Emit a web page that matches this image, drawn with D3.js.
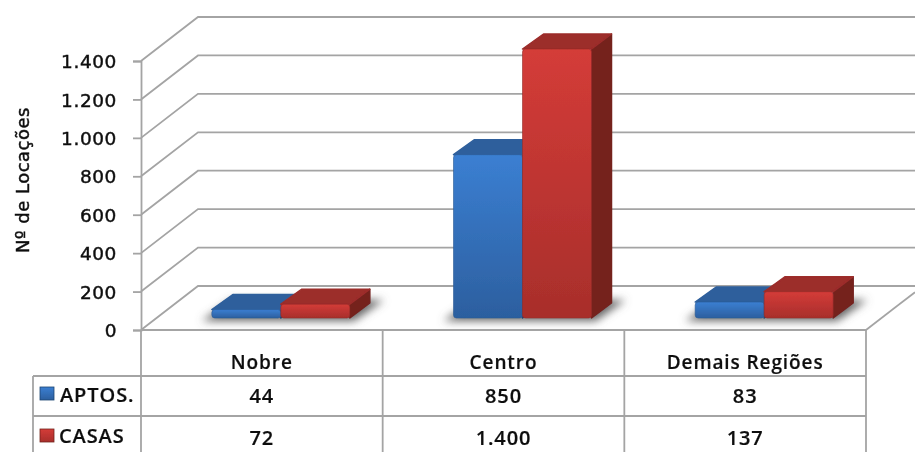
<!DOCTYPE html>
<html>
<head>
<meta charset="utf-8">
<script src="https://cdn.jsdelivr.net/npm/d3@7"></script>
<style>
  html, body { margin: 0; padding: 0; background: #fff; overflow: hidden; }
  text { font-family: "DejaVu Sans", sans-serif; fill: #111; stroke: #111; stroke-width: 0.45px; }
  .tbl { font-family: "Open Sans", sans-serif; font-weight: 600; stroke-width: 0.2px; letter-spacing: 0.9px; }
</style>
</head>
<body>
<svg id="svg" width="915" height="452"></svg>
<script>
var categories = ['Nobre', 'Centro', 'Demais Regiões'];
var seriesNames = ['APTOS.', 'CASAS'];
var aptos = [44, 850, 83];
var casas = [72, 1400, 137];
var yTicks = [0, 200, 400, 600, 800, 1000, 1200, 1400];
var yTitle = 'Nº de Locações';

var colors = [
  { light: '#3b7fd2', dark: '#2c5f9f', top: '#2e5f9c', side: '#1f4472', line: '#2a5a96' },
  { light: '#d43c38', dark: '#a82e2b', top: '#9c2d2a', side: '#74211f', line: '#962b28' }
];

var svg = d3.select('#svg');
var gridColor = '#a4a4a4';

var left = 141, right = 866, base = 330, topY = 61;
var wallDx = 57, wallDy = -44;   // how far the back wall sits behind the front plane
var barDx = 21, barDy = -16;     // depth of a bar
var rowY = [330, 376, 416, 458];

var x = d3.scaleBand().domain(categories).range([left, right]);
var inner = d3.scaleBand().domain(seriesNames).range([0, 138]);
var y = d3.scaleLinear().domain([0, 1400]).range([base, topY]);
var shiftX = 19, shiftY = -12;   // bars stand a little inside the floor
var fmt = d3.formatLocale({ decimal: ',', thousands: '.', grouping: [3], currency: ['', ''] }).format(',d');

var defs = svg.append('defs');
colors.forEach(function(c, i) {
  var g = defs.append('linearGradient').attr('id', 'front' + i)
    .attr('x1', 0).attr('y1', 0).attr('x2', 0).attr('y2', 1);
  g.append('stop').attr('offset', 0).attr('stop-color', c.light);
  g.append('stop').attr('offset', 1).attr('stop-color', c.dark);
});
defs.append('filter').attr('id', 'shadow')
  .attr('x', '-30%').attr('y', '-80%').attr('width', '160%').attr('height', '260%')
  .append('feGaussianBlur').attr('stdDeviation', 4);
defs.append('filter').attr('id', 'soft')
  .append('feGaussianBlur').attr('stdDeviation', 0.4);

var root = svg.append('g').attr('filter', 'url(#soft)');

// back wall gridlines and side wall
var grid = root.append('g').attr('fill', 'none').attr('stroke', gridColor).attr('stroke-width', 1.8);
grid.selectAll('path').data(yTicks).enter().append('path')
  .attr('d', function(d) {
    return d3.line()([[left, y(d)], [left + wallDx, y(d) + wallDy], [915, y(d) + wallDy]]);
  });
grid.append('line').attr('x1', right).attr('y1', base).attr('x2', 915).attr('y2', base + (915 - right) * wallDy / wallDx);

// axis
var axis = d3.axisLeft(y).tickValues(yTicks).tickSize(8).tickPadding(16).tickFormat(fmt);
var axisG = root.append('g').attr('transform', 'translate(' + left + ',0)').call(axis);
axisG.selectAll('line, path').attr('stroke', gridColor).attr('stroke-width', 1.8);
axisG.selectAll('text')
  .attr('font-size', 18.5)
  .attr('letter-spacing', 0.6)
  .style('font-family', '"DejaVu Sans", sans-serif')
  .attr('fill', '#111')
  .attr('dy', '0.36em');

root.append('text')
  .attr('transform', 'translate(29,180) rotate(-90)')
  .attr('text-anchor', 'middle')
  .attr('font-size', 18)
  .attr('letter-spacing', 0.5)
  .text(yTitle);

// bars
var barsData = [];
categories.forEach(function(c, i) {
  barsData.push({ cat: c, s: 0, v: aptos[i] });
  barsData.push({ cat: c, s: 1, v: casas[i] });
});
function bx(d) {
  return x(d.cat) + x.bandwidth() / 2 - inner.bandwidth() + inner(seriesNames[d.s]) + shiftX;
}

var shadows = root.append('g');
categories.forEach(function(c) {
  var x0 = x(c) + x.bandwidth() / 2 - inner.bandwidth() + shiftX;
  var x1 = x0 + inner.bandwidth() * 2;
  var b = base + shiftY;
  shadows.append('path')
    .attr('d', d3.line()([[x0 - 10, b + 3], [x1 + 4, b + 3], [x1 + 34, b + barDy - 2], [x0 + 20, b + barDy - 2]]))
    .attr('fill', '#666')
    .attr('filter', 'url(#shadow)');
});

var bars = root.append('g').selectAll('g').data(barsData).enter().append('g');
bars.append('path')
  .attr('fill', function(d) { return colors[d.s].side; })
  .attr('stroke', function(d) { return colors[d.s].side; })
  .attr('stroke-width', 1.5)
  .attr('stroke-linejoin', 'round')
  .attr('d', function(d) {
    var r = bx(d) + inner.bandwidth(), b = base + shiftY, t = y(d.v) + shiftY;
    return d3.line()([[r, b], [r + barDx - 1, b + barDy + 1], [r + barDx - 1, t + barDy + 1], [r, t]]) + 'Z';
  });
bars.append('path')
  .attr('fill', function(d) { return colors[d.s].top; })
  .attr('stroke', function(d) { return colors[d.s].top; })
  .attr('stroke-width', 1.5)
  .attr('stroke-linejoin', 'round')
  .attr('d', function(d) {
    var l = bx(d), r = l + inner.bandwidth(), t = y(d.v) + shiftY;
    return d3.line()([[l, t], [l + barDx, t + barDy + 1], [r + barDx - 1, t + barDy + 1], [r, t]]) + 'Z';
  });
bars.append('rect')
  .attr('x', bx)
  .attr('y', function(d) { return y(d.v) + shiftY; })
  .attr('width', inner.bandwidth())
  .attr('height', function(d) { return base - y(d.v); })
  .attr('rx', 3)
  .attr('fill', function(d) { return 'url(#front' + d.s + ')'; })
  .attr('stroke', function(d) { return colors[d.s].line; })
  .attr('stroke-width', 0.6);

// data table
var tableLeft = 33;
var table = root.append('g').attr('stroke', gridColor).attr('stroke-width', 1.8);
table.append('line').attr('x1', left).attr('y1', rowY[0]).attr('x2', right).attr('y2', rowY[0]);
table.append('line').attr('x1', tableLeft).attr('y1', rowY[1]).attr('x2', right).attr('y2', rowY[1]);
table.append('line').attr('x1', tableLeft).attr('y1', rowY[2]).attr('x2', right).attr('y2', rowY[2]);
table.append('line').attr('x1', tableLeft).attr('y1', rowY[1]).attr('x2', tableLeft).attr('y2', rowY[3]);
[left].concat(categories.map(function(c) { return x(c) + x.bandwidth(); })).forEach(function(vx) {
  table.append('line').attr('x1', vx).attr('y1', rowY[0]).attr('x2', vx).attr('y2', rowY[3]);
});

root.append('g').selectAll('text').data(categories).enter().append('text')
  .attr('class', 'tbl')
  .attr('x', function(d) { return x(d) + x.bandwidth() / 2; })
  .attr('y', 369)
  .attr('text-anchor', 'middle')
  .attr('font-size', 19)
  .text(function(d) { return d; });

[aptos, casas].forEach(function(vals, r) {
  root.append('g').selectAll('text').data(vals).enter().append('text')
    .attr('class', 'tbl')
    .attr('x', function(d, i) { return x(categories[i]) + x.bandwidth() / 2; })
    .attr('y', r === 0 ? 403 : 445)
    .attr('text-anchor', 'middle')
    .attr('font-size', 20)
    .text(function(d) { return fmt(d); });

  var ky = r === 0 ? 387 : 429;
  root.append('rect').attr('x', 40).attr('y', ky).attr('width', 14).attr('height', 13)
    .attr('fill', 'url(#front' + r + ')').attr('stroke', colors[r].side).attr('stroke-width', 0.8);
  root.append('text').attr('class', 'tbl').attr('x', r === 0 ? 60 : 59).attr('y', r === 0 ? 402 : 443)
    .attr('font-size', 20)
    .text(seriesNames[r]);
});
</script>
</body>
</html>
